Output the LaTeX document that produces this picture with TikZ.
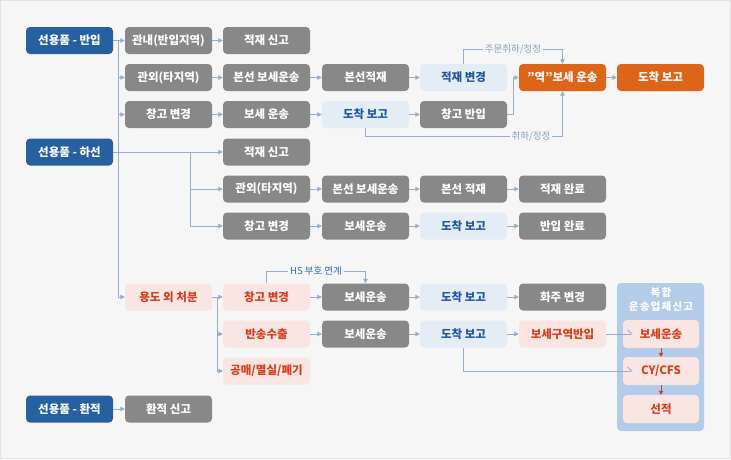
\documentclass[tikz,border=0pt]{standalone}
\usepackage{fontspec}
\setmainfont{Noto Sans CJK KR}
\usetikzlibrary{arrows.meta}

\definecolor{bgc}{HTML}{F6F6F6}
\definecolor{framec}{HTML}{E2E2E2}
\definecolor{navy}{HTML}{2760A0}
\definecolor{boxgray}{HTML}{888888}
\definecolor{paleblue}{HTML}{E4EDF6}
\definecolor{paletext}{HTML}{2257A0}
\definecolor{pinkbg}{HTML}{F9E6E3}
\definecolor{pinktext}{HTML}{D6401F}
\definecolor{hotorange}{HTML}{DD6519}
\definecolor{compbg}{HTML}{B3CCE9}
\definecolor{linec}{HTML}{95AECB}
\definecolor{notec}{HTML}{8A9FBB}
\definecolor{hsc}{HTML}{2E6BC1}
\definecolor{redline}{HTML}{C9402A}

\begin{document}
\begin{tikzpicture}[x=1pt, y=-1pt,
        box/.style={rounded corners=4pt, minimum width=87pt, minimum height=27pt, inner sep=0pt,
            font=\bfseries\fontsize{11.5}{13}\selectfont},
        startbox/.style={box, fill=navy, text=white},
        greybox/.style={box, fill=boxgray, text=white},
        palebox/.style={box, fill=paleblue, text=paletext},
        pinkbox/.style={box, fill=pinkbg, text=pinktext},
        hotbox/.style={box, fill=hotorange, text=white},
        innerbox/.style={box, minimum width=76pt, minimum height=28pt, fill=pinkbg, text=pinktext},
        arr/.style={draw=linec, line width=0.9pt, -{Triangle[length=4.5pt,width=4.5pt]}},
        harp/.style={draw=linec, line width=0.9pt, -{Straight Barb[harpoon,length=4pt,width=8pt]}},
        redarr/.style={draw=redline, line width=0.9pt, -{Triangle[length=4pt,width=4.5pt]}},
        note/.style={fill=bgc, text=notec, inner sep=2pt, font=\fontsize{9.5}{11}\selectfont}]

    % background
    \fill[bgc, draw=framec] (0.5,0.5) rectangle (730.5,458.5);
    \useasboundingbox (0,0) rectangle (731,459);

    % 선용품 - 반입
    \node[startbox] (ban) at (69.5,40.5) {선용품 - 반입};
    \node[greybox] (gn) at (168.5,40.5) {관내(반입지역)};
    \node[greybox] (js1) at (266.5,40.5) {적재 신고};

    \node[greybox] (go) at (168.5,77.5) {관외(타지역)};
    \node[greybox] (bb1) at (266.5,77.5) {본선 보세운송};
    \node[greybox] (bj1) at (365.5,77.5) {본선적재};
    \node[palebox] (jb) at (463.5,77.5) {적재 변경};
    \node[hotbox] (yb) at (562.5,77.5) {"역"보세 운송};
    \node[hotbox] (dr) at (660.5,77.5) {도착 보고};

    \node[greybox] (cb1) at (168.5,114.5) {창고 변경};
    \node[greybox] (bw1) at (266.5,114.5) {보세 운송};
    \node[palebox] (dc1) at (365.5,114.5) {도착 보고};
    \node[greybox] (cg) at (463.5,114.5) {창고 반입};

    % 선용품 - 하선
    \node[startbox] (ha) at (69.5,152) {선용품 - 하선};
    \node[greybox] (js2) at (266.5,152) {적재 신고};

    \node[greybox] (gw2) at (266.5,189) {관외(타지역)};
    \node[greybox] (bb2) at (365.5,189) {본선 보세운송};
    \node[greybox] (bj2) at (463.5,189) {본선 적재};
    \node[greybox] (jw) at (562.5,189) {적재 완료};

    \node[greybox] (cb2) at (266.5,226) {창고 변경};
    \node[greybox] (bw2) at (365.5,226) {보세운송};
    \node[palebox] (dc2) at (463.5,226) {도착 보고};
    \node[greybox] (bi) at (562.5,226) {반입 완료};

    % 용도 외 처분
    \node[pinkbox] (yd) at (168.5,297) {용도 외 처분};
    \node[pinkbox] (cb3) at (266.5,297) {창고 변경};
    \node[greybox] (bw3) at (365.5,297) {보세운송};
    \node[palebox] (dc3) at (463.5,297) {도착 보고};
    \node[greybox] (hc) at (562.5,297) {화주 변경};

    \node[pinkbox] (bs) at (266.5,334) {반송수출};
    \node[greybox] (bw4) at (365.5,334) {보세운송};
    \node[palebox] (dc4) at (463.5,334) {도착 보고};
    \node[pinkbox] (bg) at (562.5,334) {보세구역반입};

    \node[pinkbox] (gm) at (266.5,371) {공매/멸실/폐기};

    % 복합 운송업체신고
    \node[fill=compbg, rounded corners=4pt, minimum width=87pt, minimum height=148pt] (cp) at (660.5,357) {};
    \node[text=white, align=center, inner sep=0pt,
        font=\bfseries\fontsize{10.5}{14}\selectfont\addfontfeatures{LetterSpace=12}] (cpt) at (661,300) {복합\\운송업체신고};
    \node[innerbox] (ib1) at (661,334) {보세운송};
    \node[innerbox] (ib2) at (661,371) {CY/CFS};
    \node[innerbox] (ib3) at (661,409) {선적};

    % 선용품 - 환적
    \node[startbox] (hj) at (69.5,409) {선용품 - 환적};
    \node[greybox] (hs) at (168.5,409) {환적 신고};

    % straight links
    \foreach \a/\b in {ban/gn, gn/js1, go/bb1, bb1/bj1, bj1/jb, yb/dr, cb1/bw1, bw1/dc1, dc1/cg,
            ha/js2, gw2/bb2, bb2/bj2, bj2/jw, cb2/bw2, bw2/dc2, dc2/bi,
            yd/cb3, cb3/bw3, bw3/dc3, dc3/hc, bs/bw4, bw4/dc4, dc4/bg, hj/hs}
        \draw[arr] (\a) -- (\b);

    % trunks
    \coordinate (t) at (118,40.5);
    \draw[arr] (t) |- (yd);
    \draw[arr] (t |- go) -- (go);
    \draw[arr] (t |- cb1) -- (cb1);

    \coordinate (u) at (190,152);
    \draw[arr] (u) |- (cb2);
    \draw[arr] (u |- gw2) -- (gw2);

    \coordinate (v) at (217,297);
    \draw[arr] (v) |- (gm);
    \draw[arr] (v |- bs) -- (bs);

    % returns
    \draw[arr] (jb.north) -- ++(0,-14) -| node[note, pos=0.25] {주문취하/정정} (yb.north);
    \draw[arr] (dc1.south) -- ++(0,8) -| node[note, pos=0.42] {취하/정정} (yb.south);
    \draw[arr] (cg.east) -- ++(6,0) |- (yb.west);
    \draw[arr] (cb3.north) -- ++(0,-12) -| node[note, text=hsc, pos=0.25] {HS 부호 연계} (bw3.north);

    % into 복합 운송업체신고
    \draw[harp] (bg.east) -- ([xshift=10pt]ib1.west);
    \draw[harp] (dc4.south) |- ([xshift=10pt]ib2.west);
    \draw[redarr] (ib1) -- (ib2);
    \draw[redarr] (ib2) -- (ib3);
\end{tikzpicture}
\end{document}
